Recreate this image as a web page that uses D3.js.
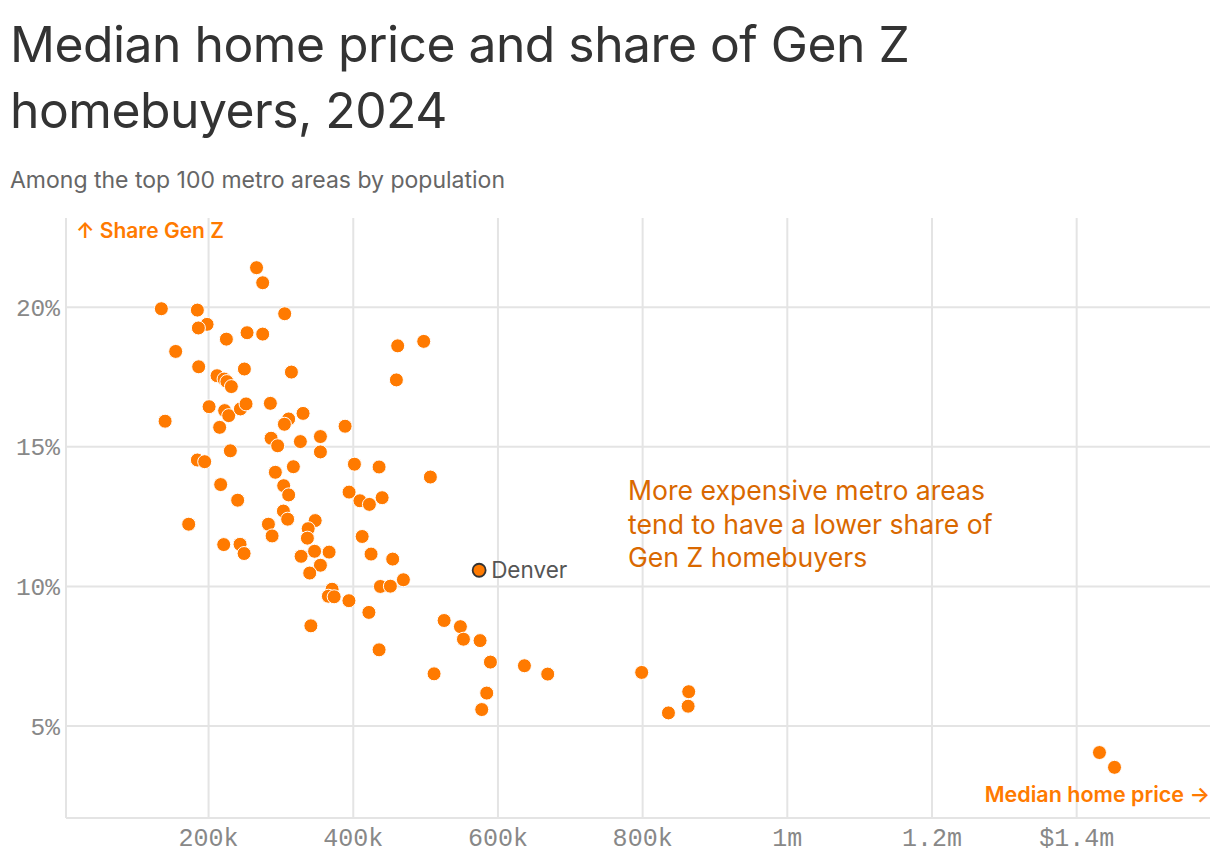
<!DOCTYPE html>
<html>
<head>
<meta charset="utf-8">
<script src="https://cdn.jsdelivr.net/npm/d3@7"></script>
<style>
  html, body { margin: 0; padding: 0; background: #fff; }
  svg { display: block; }
</style>
</head>
<body>
<svg id="chart" width="1220" height="860"></svg>
<script>
// ---- data (median home price in $, share of Gen Z homebuyers in %) ----
const prices = [
  267000, 275500, 135400, 185200, 305900, 198600, 186600, 253900, 275500, 225300,
  155200, 187000, 250200, 315200, 212400, 222100, 226000, 232200, 201400, 222900,
  228500, 244700, 252500, 286100, 140600, 216000, 311400, 305500, 331300, 355300,
  287100, 296200, 327600, 230800, 355300, 389400, 185200, 195300, 402300, 436400,
  293000, 317900, 217400, 240900, 304500, 311400, 394900, 409900, 423000, 440600,
  173200, 283400, 288500, 304100, 310000, 348100, 338400, 337300, 413000, 221600,
  244200, 249800, 328600, 347200, 367300, 355300, 340500, 425300, 371400, 366300,
  374300, 394700, 422300, 342100, 438200, 452000, 470000, 462100, 498100, 460300,
  507300, 455200, 574700, 526300, 548800, 553000, 576000, 436400, 512400, 590300,
  637300, 669500, 585200, 578300, 799400, 864400, 863600, 836400, 1432200, 1453000
];
const genZShare = [
  21.40, 20.86, 19.93, 19.88, 19.75, 19.37, 19.24, 19.07, 19.02, 18.84,
  18.40, 17.85, 17.77, 17.66, 17.53, 17.41, 17.32, 17.14, 16.42, 16.28,
  16.10, 16.34, 16.52, 16.54, 15.90, 15.68, 15.98, 15.79, 16.18, 15.35,
  15.29, 15.02, 15.17, 14.84, 14.80, 15.72, 14.51, 14.45, 14.36, 14.26,
  14.07, 14.27, 13.63, 13.07, 13.59, 13.26, 13.36, 13.05, 12.92, 13.16,
  12.21, 12.21, 11.79, 12.68, 12.39, 12.34, 12.05, 11.71, 11.77, 11.48,
  11.49, 11.16, 11.06, 11.24, 11.21, 10.74, 10.46, 11.14, 9.88, 9.63,
  9.61, 9.47, 9.05, 8.57, 9.98, 9.99, 10.22, 18.60, 18.76, 17.38,
  13.90, 10.96, 10.56, 8.76, 8.54, 8.09, 8.04, 7.71, 6.85, 7.27,
  7.14, 6.84, 6.16, 5.57, 6.90, 6.21, 5.69, 5.45, 4.03, 3.50
];
const highlightNames = ["Denver"];
const highlightIndex = [82];
const xTickValues = [200000, 400000, 600000, 800000, 1000000, 1200000, 1400000];
const xTickLabels = ["200k", "400k", "600k", "800k", "1m", "1.2m", "$1.4m"];
const yTickValues = [5, 10, 15, 20];
const yTickLabels = ["5%", "10%", "15%", "20%"];
const titleLines = ["Median home price and share of Gen Z", "homebuyers, 2024"];
const subtitle = "Among the top 100 metro areas by population";
const annotationLines = ["More expensive metro areas", "tend to have a lower share of", "Gen Z homebuyers"];

// ---- layout ----
const svg = d3.select("#chart");
const pLeft = 66, pRight = 1210, pTop = 218, pBottom = 818;
const x = d3.scaleLinear().domain([3600, 1585000]).range([pLeft, pRight]);
const y = d3.scaleLinear().domain([1.685, 23.18]).range([pBottom, pTop]);

const ORANGE = "#ff7a00";
const GRID = "#e4e4e4";
const MONO = "'Liberation Mono', 'DejaVu Sans Mono', monospace";
const SANS = "Inter, 'Noto Sans', sans-serif";

// title
svg.append("g").selectAll("text").data(titleLines).join("text")
  .attr("x", 10).attr("y", (d, i) => 62 + i * 66)
  .attr("font-family", SANS).attr("font-size", 49.8).attr("font-weight", 400)
  .attr("fill", "#333").attr("letter-spacing", -0.5)
  .text(d => d);
svg.append("text").attr("x", 10).attr("y", 188)
  .attr("font-family", SANS).attr("font-size", 23).attr("fill", "#666")
  .text(subtitle);

// y grid + labels
const yAxis = d3.axisLeft(y).tickValues(yTickValues)
  .tickSize(-(pRight - pLeft)).tickPadding(6)
  .tickFormat((d, i) => yTickLabels[i]);
const gy = svg.append("g").attr("transform", `translate(${pLeft},0)`).call(yAxis);
gy.select(".domain").remove();
gy.selectAll(".tick line").attr("stroke", GRID).attr("stroke-width", 2);
gy.selectAll(".tick text").attr("font-family", MONO).attr("font-size", 24.5)
  .attr("fill", "#888").attr("x", -6).attr("dy", "0.35em");

// x grid + labels
const xAxis = d3.axisBottom(x).tickValues(xTickValues)
  .tickSize(-(pBottom - pTop)).tickPadding(10)
  .tickFormat((d, i) => xTickLabels[i]);
const gx = svg.append("g").attr("transform", `translate(0,${pBottom})`).call(xAxis);
gx.select(".domain").remove();
gx.selectAll(".tick line").attr("stroke", GRID).attr("stroke-width", 2);
gx.selectAll(".tick text").attr("font-family", MONO).attr("font-size", 25)
  .attr("fill", "#888");

// axis frame lines (left + bottom)
svg.append("line").attr("x1", pLeft).attr("x2", pLeft).attr("y1", pTop).attr("y2", pBottom)
  .attr("stroke", GRID).attr("stroke-width", 2);
svg.append("line").attr("x1", pLeft).attr("x2", pRight).attr("y1", pBottom).attr("y2", pBottom)
  .attr("stroke", GRID).attr("stroke-width", 2);

// axis titles
svg.append("text").attr("x", 76).attr("y", 238)
  .attr("font-family", SANS).attr("font-size", 21).attr("font-weight", 600)
  .attr("fill", ORANGE).text("↑ Share Gen Z");
svg.append("text").attr("x", 1210).attr("y", 802).attr("text-anchor", "end")
  .attr("font-family", SANS).attr("font-size", 21.5).attr("font-weight", 600)
  .attr("fill", ORANGE).text("Median home price →");

// points
const pts = prices.map((p, i) => ({ p, s: genZShare[i], i }));
svg.append("g").selectAll("circle").data(pts.filter(d => !highlightIndex.includes(d.i))).join("circle")
  .attr("cx", d => x(d.p)).attr("cy", d => y(d.s)).attr("r", 7)
  .attr("fill", ORANGE).attr("stroke", "#fff").attr("stroke-width", 1);

// highlighted point
const hl = pts.filter(d => highlightIndex.includes(d.i));
svg.append("g").selectAll("circle").data(hl).join("circle")
  .attr("cx", d => x(d.p)).attr("cy", d => y(d.s)).attr("r", 6.5)
  .attr("fill", ORANGE).attr("stroke", "#333").attr("stroke-width", 1.8);
svg.append("g").selectAll("text").data(hl).join("text")
  .attr("x", d => x(d.p) + 12).attr("y", d => y(d.s)).attr("dy", "0.35em")
  .attr("font-family", SANS).attr("font-size", 22.5).attr("fill", "#555")
  .text((d, i) => highlightNames[i]);

// annotation
svg.append("g").selectAll("text").data(annotationLines).join("text")
  .attr("x", 628).attr("y", (d, i) => 500 + i * 33.5)
  .attr("font-family", SANS).attr("font-size", 26.6).attr("fill", "#d96800")
  .text(d => d);
</script>
</body>
</html>
